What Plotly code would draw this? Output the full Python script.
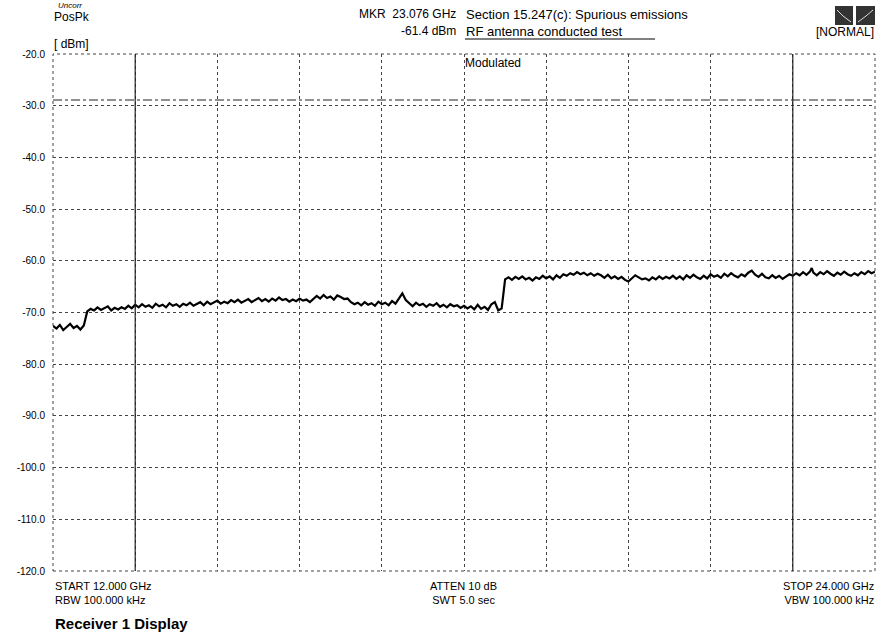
import plotly.graph_objects as go

# Sweep settings
START_GHZ = 12.0
STOP_GHZ = 24.0
STEP_GHZ = 0.05

# Measured positive-peak trace, dBm, one row per GHz (0.05 GHz steps)
trace_12 = [-72.6, -73.1, -72.4, -73.4, -72.8, -72.2, -73.0, -72.6, -73.3, -72.5,
            -69.8, -69.3, -69.6, -69.0, -69.5, -69.2, -68.8, -69.6, -69.1, -69.4]
trace_13 = [-69.0, -69.3, -68.7, -69.2, -68.5, -69.0, -68.4, -68.9, -68.6, -69.1,
            -68.3, -68.8, -68.5, -69.0, -68.2, -68.7, -68.4, -68.9, -68.3, -68.6]
trace_14 = [-68.1, -68.7, -68.3, -68.0, -68.6, -67.9, -68.4, -68.1, -67.7, -68.3,
            -67.9, -68.2, -67.6, -68.0, -67.5, -68.1, -67.8, -67.4, -68.0, -67.6]
trace_15 = [-67.2, -67.8, -67.4, -67.9, -67.3, -67.7, -67.1, -67.6, -67.4, -67.9,
            -67.5, -67.8, -67.3, -67.7, -67.5, -68.0, -67.4, -66.8, -67.3, -66.6]
trace_16 = [-67.2, -66.9, -67.5, -66.7, -67.0, -67.4, -67.3, -68.0, -68.4, -68.1,
            -68.6, -68.0, -68.5, -68.2, -68.7, -67.9, -68.4, -68.1, -68.6, -67.8]
trace_17 = [-68.3, -67.4, -66.3, -67.6, -68.2, -68.8, -68.1, -68.6, -68.3, -68.9,
            -68.4, -68.7, -68.2, -68.9, -68.5, -69.0, -68.4, -68.8, -68.6, -69.1]
trace_18 = [-68.7, -69.2, -68.8, -69.4, -68.5, -69.3, -68.9, -69.5, -68.4, -68.0,
            -69.6, -69.2, -63.6, -63.2, -63.7, -63.1, -63.5, -63.0, -63.6, -63.3]
trace_19 = [-63.8, -63.2, -63.5, -62.9, -63.4, -63.0, -63.6, -62.8, -63.3, -62.6,
            -62.9, -62.4, -62.7, -62.2, -62.6, -62.3, -62.8, -62.4, -62.9, -62.5]
trace_20 = [-62.8, -63.3, -62.7, -63.4, -63.0, -63.5, -63.1, -63.7, -64.0, -63.3,
            -62.8, -63.2, -63.6, -63.4, -63.8, -63.2, -63.6, -63.0, -63.5, -63.1]
trace_21 = [-63.4, -62.9, -63.5, -63.0, -63.6, -62.8, -63.3, -62.7, -63.2, -63.5,
            -62.9, -63.4, -62.6, -63.1, -62.8, -63.3, -62.5, -63.0, -62.4, -62.9]
trace_22 = [-63.2, -62.6, -63.0, -62.3, -61.9, -62.7, -63.1, -62.5, -63.2, -63.4,
            -62.8, -63.3, -62.9, -63.5, -63.0, -62.6, -62.9, -62.4, -62.8, -62.2]
trace_23 = [-62.7, -62.1, -62.3, -62.8, -62.2, -62.6, -62.0, -62.5, -62.9, -62.3,
            -62.7, -62.1, -62.6, -62.9, -62.4, -62.8, -62.2, -62.6, -62.0, -62.4]
trace_24 = [-62.1]

# Marker readout
MKR_GHZ = 23.076
MKR_DBM = -61.4

# Display / limit line
LIMIT_DBM = -28.9

# Axis ticks
y_ticks = [-20, -30, -40, -50, -60, -70, -80, -90, -100, -110, -120]
y_tick_labels = ["-20.0", "-30.0", "-40.0", "-50.0", "-60.0", "-70.0",
                 "-80.0", "-90.0", "-100.0", "-110.0", "-120.0"]
x_grid = [12.0, 13.2, 14.4, 15.6, 16.8, 18.0, 19.2, 20.4, 21.6, 22.8, 24.0]
solid_x_grid = [13.2, 22.8]

levels = (trace_12 + trace_13 + trace_14 + trace_15 + trace_16 + trace_17 +
          trace_18 + trace_19 + trace_20 + trace_21 + trace_22 + trace_23 + trace_24)
freqs = [round(START_GHZ + i * STEP_GHZ, 3) for i in range(len(levels))]

# insert the marker sample into the sweep
pts = sorted(list(zip(freqs, levels)) + [(MKR_GHZ, MKR_DBM)])
fx = [p[0] for p in pts]
fy = [p[1] for p in pts]

W, H = 881, 641
L, R, T, B = 53, 6, 54, 70
PW, PH = W - L - R, H - T - B


def px(x):
    return (x - L) / PW


def py(y):
    return (H - B - y) / PH


FONT = "Liberation Sans, Arial, sans-serif"
GRID = "#444"

fig = go.Figure()
fig.add_trace(go.Scatter(x=fx, y=fy, mode="lines",
                         line=dict(color="black", width=2.2),
                         hoverinfo="x+y", showlegend=False))

for g in solid_x_grid:
    fig.add_vline(x=g, line=dict(color="#222", width=1.2))
fig.add_hline(y=LIMIT_DBM, line=dict(color="#222", width=1, dash="dashdot"))

ann = []


def text(x, y, s, size=11, xanchor="left", bold=False, italic=False, align="left"):
    if bold:
        s = "<b>" + s + "</b>"
    if italic:
        s = "<i>" + s + "</i>"
    ann.append(dict(x=px(x), y=py(y), xref="paper", yref="paper", text=s,
                    showarrow=False, xanchor=xanchor, yanchor="middle", align=align,
                    font=dict(family=FONT, size=size, color="black")))


text(56, 5, "Uncorr", size=8, italic=True)
text(52, 17, "PosPk", size=12)
text(52, 44, "[ dBm]", size=12)
text(458, 14, f"MKR  {MKR_GHZ:.3f} GHz", size=12, xanchor="right")
text(458, 31, f"{MKR_DBM:.1f} dBm", size=12, xanchor="right")
text(464, 14, "Section 15.247(c): Spurious emissions", size=13)
text(464, 32, "RF antenna conducted test", size=13)
text(463, 63, "Modulated", size=12)
text(876, 32, "[NORMAL]", size=12, xanchor="right")
text(53, 593, f"START {START_GHZ:.3f} GHz<br>RBW 100.000 kHz", size=11)
text(463, 593, "ATTEN 10 dB<br>SWT 5.0 sec", size=11, xanchor="center", align="center")
text(876, 593, f"STOP {STOP_GHZ:.3f} GHz<br>VBW 100.000 kHz", size=11,
     xanchor="right", align="right")
text(53, 623, "Receiver 1 Display", size=15, bold=True)

shapes = [
    # plot frame
    dict(type="rect", xref="paper", yref="paper", x0=0, x1=1, y0=0, y1=1,
         line=dict(color=GRID, width=1, dash="dot"), layer="below"),
    # underline of the test description
    dict(type="line", xref="paper", yref="paper", x0=px(465), x1=px(655),
         y0=py(39), y1=py(39), line=dict(color="black", width=1)),
    # status icon
    dict(type="rect", xref="paper", yref="paper", x0=px(835), x1=px(853),
         y0=py(25), y1=py(6), fillcolor="#333", line=dict(width=0)),
    dict(type="rect", xref="paper", yref="paper", x0=px(856), x1=px(875),
         y0=py(25), y1=py(6), fillcolor="#333", line=dict(width=0)),
    dict(type="path", xref="paper", yref="paper",
         path=f"M {px(837)},{py(10)} L {px(843)},{py(16)} L {px(851)},{py(22)}",
         line=dict(color="#ddd", width=1)),
    dict(type="path", xref="paper", yref="paper",
         path=f"M {px(858)},{py(22)} L {px(866)},{py(16)} L {px(873)},{py(10)}",
         line=dict(color="#ddd", width=1)),
]

fig.update_layout(
    width=W, height=H,
    margin=dict(l=L, r=R, t=T, b=B),
    paper_bgcolor="white", plot_bgcolor="white",
    annotations=ann,
    shapes=list(fig.layout.shapes) + shapes,
    xaxis=dict(range=[START_GHZ, STOP_GHZ], tickvals=x_grid, showticklabels=False,
               ticks="", showgrid=True, gridcolor=GRID, griddash="dot",
               gridwidth=1, zeroline=False, showline=False, fixedrange=True),
    yaxis=dict(range=[-120, -20], tickvals=y_ticks, ticktext=y_tick_labels,
               ticks="", showgrid=True, gridcolor=GRID, griddash="dot",
               gridwidth=1, zeroline=False, showline=False,
               tickfont=dict(family=FONT, size=10, color="black"),
               ticklabelstandoff=7, fixedrange=True),
)

fig.write_html("out.html")
